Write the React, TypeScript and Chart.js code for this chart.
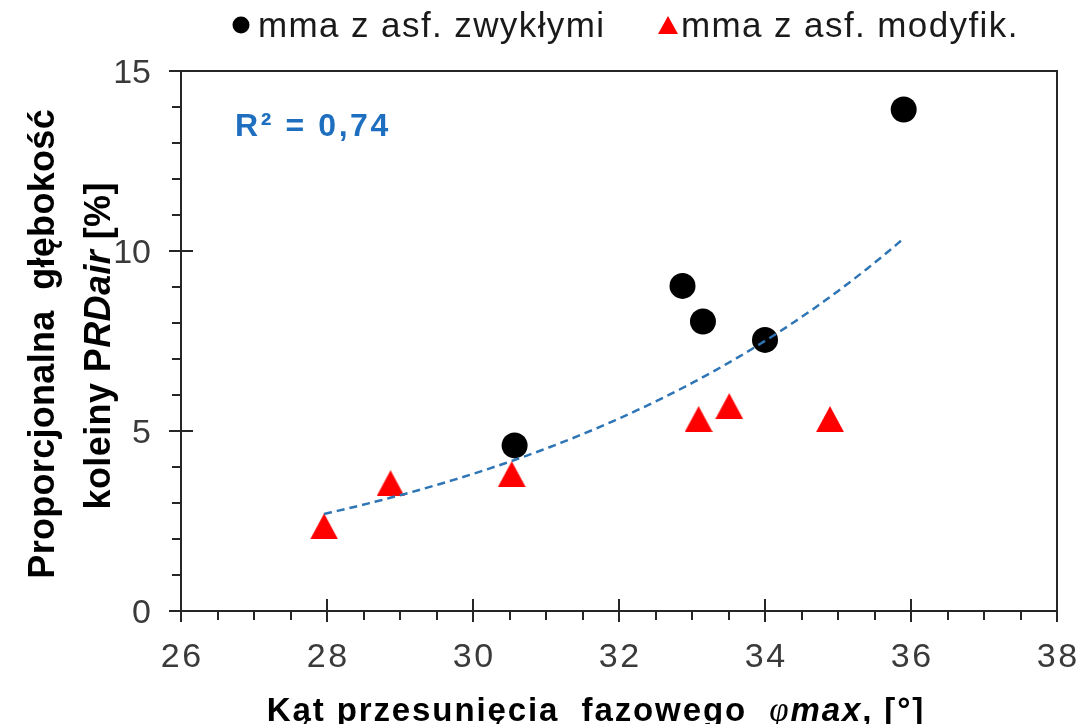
import React, { useEffect, useRef } from "react";
import { Chart, registerables } from "chart.js";

Chart.register(...registerables);

// Phase shift angle vs. proportional rut depth for two asphalt groups
const zwykleX = [30.57, 32.87, 33.15, 34.0, 35.9];
const zwykleY = [4.6, 9.03, 8.04, 7.53, 13.93];
const modyfX = [27.96, 28.87, 30.53, 33.09, 33.51, 34.89];
const modyfY = [2.35, 3.55, 3.8, 5.33, 5.69, 5.33];

const xTicks = [26, 28, 30, 32, 34, 36, 38];
const yTicks = [0, 5, 10, 15];
const legendLabels = ["mma z asf. zwykłymi", "mma z asf. modyfik."];

const X_MIN = 26;
const X_MAX = 38;
const Y_MIN = 0;
const Y_MAX = 15;

const AXIS = "#262626";
const TICK_TEXT = "#3a3a3a";
const TREND = "#2e75b6";
const TREND_TEXT = "#1f6fc0";
const SANS = "'Liberation Sans', Arial, sans-serif";

// exponential least-squares fit y = a * e^(b x), R² on ln(y)
function expFit(xs: number[], ys: number[]) {
  const ly = ys.map((v) => Math.log(v));
  const n = xs.length;
  const mx = xs.reduce((s, v) => s + v, 0) / n;
  const my = ly.reduce((s, v) => s + v, 0) / n;
  let sxy = 0, sxx = 0, syy = 0;
  for (let i = 0; i < n; i++) {
    const dx = xs[i] - mx, dy = ly[i] - my;
    sxy += dx * dy; sxx += dx * dx; syy += dy * dy;
  }
  const b = sxy / sxx;
  const a = Math.exp(my - b * mx);
  return { a, b, r2: (sxy * sxy) / (sxx * syy) };
}

const allX = [...zwykleX, ...modyfX];
const allY = [...zwykleY, ...modyfY];
const fit = expFit(allX, allY);
const fitFrom = Math.min(...allX);
const fitTo = Math.max(...allX);
const trendPts = Array.from({ length: 81 }, (_, i) => {
  const x = fitFrom + ((fitTo - fitFrom) * i) / 80;
  return { x, y: fit.a * Math.exp(fit.b * x) };
});
const r2Label = "R² = " + fit.r2.toFixed(2).replace(".", ",");

function triangleMarker(w: number, h: number, color: string) {
  const c = document.createElement("canvas");
  c.width = w;
  c.height = h;
  const g = c.getContext("2d")!;
  g.fillStyle = color;
  g.beginPath();
  g.moveTo(w / 2, 0);
  g.lineTo(w, h);
  g.lineTo(0, h);
  g.closePath();
  g.fill();
  return c;
}

type Run = { text: string; font: string };

function setSpacing(ctx: CanvasRenderingContext2D, ls: number) {
  (ctx as any).letterSpacing = ls + "px";
}

// draws a row of differently styled text pieces, centred on cx
function drawRuns(ctx: CanvasRenderingContext2D, runs: Run[], cx: number, y: number, ls: number) {
  setSpacing(ctx, ls);
  let total = 0;
  const widths = runs.map((r) => {
    ctx.font = r.font;
    const w = ctx.measureText(r.text).width;
    total += w;
    return w;
  });
  total -= ls;
  let x = cx - total / 2;
  ctx.textAlign = "left";
  runs.forEach((r, i) => {
    ctx.font = r.font;
    ctx.fillText(r.text, x, y);
    x += widths[i];
  });
}

const decor = {
  id: "decor",
  beforeDatasetsDraw(chart: any) {
    const { ctx, chartArea: a, scales } = chart;
    const xs = scales.x;
    const ys = scales.y;
    ctx.save();
    ctx.strokeStyle = AXIS;
    ctx.lineWidth = 2;
    ctx.strokeRect(a.left, a.top, a.right - a.left, a.bottom - a.top);
    ctx.beginPath();
    for (let v = X_MIN; v <= X_MAX + 1e-9; v += 0.5) {
      const px = Math.round(xs.getPixelForValue(v));
      const major = xTicks.includes(v);
      ctx.moveTo(px, major ? a.bottom - 12 : a.bottom);
      ctx.lineTo(px, a.bottom + (major ? 11 : 9));
    }
    for (let v = Y_MIN; v <= Y_MAX + 1e-9; v += 1) {
      const py = Math.round(ys.getPixelForValue(v));
      const major = yTicks.includes(v);
      ctx.moveTo(a.left - (major ? 12 : 9), py);
      ctx.lineTo(major ? a.left + 12 : a.left, py);
    }
    ctx.stroke();

    // tick labels
    ctx.fillStyle = TICK_TEXT;
    ctx.textBaseline = "alphabetic";
    const tickFont = "34px " + SANS;
    xTicks.forEach((v) => {
      drawRuns(ctx, [{ text: String(v), font: tickFont }], xs.getPixelForValue(v), a.bottom + 56, 2.5);
    });
    setSpacing(ctx, 0);
    ctx.font = tickFont;
    ctx.textAlign = "right";
    yTicks.forEach((v) => {
      ctx.fillText(String(v), a.left - 30, ys.getPixelForValue(v) + 12);
    });
    ctx.restore();
  },
  afterDraw(chart: any) {
    const { ctx } = chart;
    ctx.save();
    ctx.textBaseline = "alphabetic";

    // legend
    ctx.fillStyle = "#000";
    ctx.beginPath();
    ctx.arc(241, 25, 8.5, 0, Math.PI * 2);
    ctx.fill();
    ctx.fillStyle = "#ff0000";
    ctx.beginPath();
    ctx.moveTo(668, 16);
    ctx.lineTo(678, 34);
    ctx.lineTo(658, 34);
    ctx.closePath();
    ctx.fill();
    ctx.fillStyle = "#1a1a1a";
    ctx.textAlign = "left";
    setSpacing(ctx, 1.4);
    ctx.font = "35px " + SANS;
    ctx.fillText(legendLabels[0], 258, 37);
    ctx.fillText(legendLabels[1], 681, 37);

    // R² of the trend
    ctx.fillStyle = TREND_TEXT;
    setSpacing(ctx, 2.6);
    ctx.font = "bold 32px " + SANS;
    ctx.fillText(r2Label, 235, 136);

    // x axis title
    ctx.fillStyle = "#000";
    const xb = "bold 33px " + SANS;
    const xbi = "italic bold 33px " + SANS;
    drawRuns(
      ctx,
      [
        { text: "Kąt przesunięcia  fazowego  ", font: xb },
        { text: "φ", font: "italic 35px 'Liberation Serif', serif" },
        { text: "max", font: xbi },
        { text: ", [°]", font: xb },
      ],
      595,
      721,
      1.9
    );

    // y axis title, two rotated lines
    const yb = "bold 36px " + SANS;
    const ybi = "italic bold 36px " + SANS;
    ctx.save();
    ctx.translate(54, 344);
    ctx.rotate(-Math.PI / 2);
    drawRuns(ctx, [{ text: "Proporcjonalna  głębokość", font: yb }], 0, 0, 0.3);
    ctx.restore();
    ctx.save();
    ctx.translate(110, 346);
    ctx.rotate(-Math.PI / 2);
    drawRuns(
      ctx,
      [
        { text: "koleiny P", font: yb },
        { text: "RDair", font: ybi },
        { text: " [%]", font: yb },
      ],
      0,
      0,
      0.4
    );
    ctx.restore();
    ctx.restore();
  },
};

export default function App() {
  const ref = useRef<HTMLCanvasElement | null>(null);

  useEffect(() => {
    if (!ref.current) return;
    const tri = triangleMarker(28, 26, "#ff0000");
    const chart = new Chart(ref.current, {
      type: "scatter",
      data: {
        datasets: [
          {
            label: "trend",
            data: trendPts,
            showLine: true,
            borderColor: TREND,
            borderWidth: 2.5,
            borderDash: [8, 5],
            pointRadius: 0,
            fill: false,
            tension: 0,
          },
          {
            label: legendLabels[0],
            data: zwykleX.map((x, i) => ({ x, y: zwykleY[i] })),
            pointStyle: "circle",
            pointRadius: 13,
            backgroundColor: "#000",
            borderColor: "#000",
            borderWidth: 0,
          },
          {
            label: legendLabels[1],
            data: modyfX.map((x, i) => ({ x, y: modyfY[i] })),
            pointStyle: tri as any,
            pointRadius: 13,
            backgroundColor: "#ff0000",
            borderColor: "#ff0000",
          },
        ],
      },
      options: {
        responsive: false,
        animation: false,
        events: [],
        layout: { padding: { left: 0, top: 71, right: 21, bottom: 0 } },
        plugins: { legend: { display: false }, tooltip: { enabled: false }, title: { display: false } },
        scales: {
          x: {
            type: "linear",
            min: X_MIN,
            max: X_MAX,
            grid: { display: false, drawTicks: false },
            border: { display: false },
            ticks: { display: false, stepSize: 2 },
            afterFit: (s: any) => {
              s.height = 113;
            },
          },
          y: {
            type: "linear",
            min: Y_MIN,
            max: Y_MAX,
            grid: { display: false, drawTicks: false },
            border: { display: false },
            ticks: { display: false, stepSize: 5 },
            afterFit: (s: any) => {
              s.width = 181;
            },
          },
        },
      },
      plugins: [decor],
    });
    return () => chart.destroy();
  }, []);

  return (
    <div style={{ position: "fixed", left: 0, top: 0, width: 1078, height: 724, background: "#fff" }}>
      <canvas ref={ref} width={1078} height={724} />
    </div>
  );
}
